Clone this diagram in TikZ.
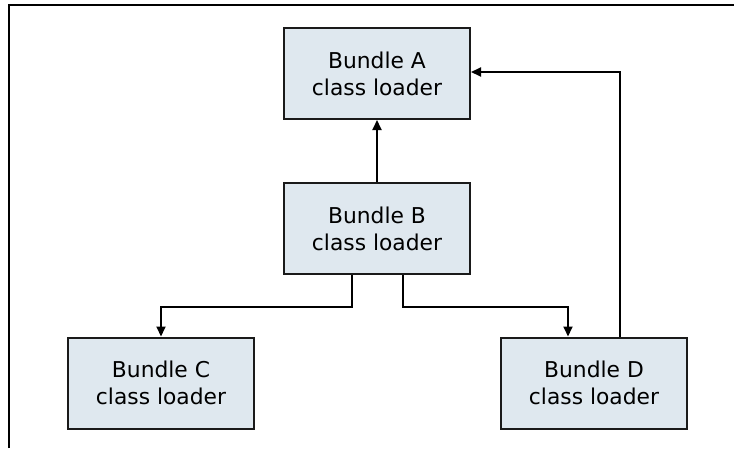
\documentclass[tikz,border=0pt]{standalone}
\usepackage{fontspec}
\setmainfont{DejaVu Sans}
\usetikzlibrary{arrows.meta}
\definecolor{boxfill}{HTML}{DFE8EF}
\definecolor{boxline}{HTML}{1A1A1A}
\tikzset{
  loader/.style={draw=boxline, line width=2pt, fill=boxfill, minimum width=186pt, minimum height=91pt,
    inner sep=0pt, align=center, font=\fontsize{21.8}{27}\selectfont},
  conn/.style={draw=black, line width=1.8pt, -{Triangle[length=10pt,width=9pt]}},
  frame/.style={draw=black, line width=1.6pt}
}
\begin{document}
\begin{tikzpicture}[x=1pt,y=-1pt]
\useasboundingbox (0,0) rectangle (734,448);
\coordinate (f1) at (9,448);
\coordinate (f2) at (9,5);
\coordinate (f3) at (734,5);
\draw[frame] (f1) -- (f2) -- (f3);
\node[loader] (A) at (377,73.5) {Bundle A\\class loader};
\node[loader] (B) at (377,228.5) {Bundle B\\class loader};
\node[loader] (C) at (161,383) {Bundle C\\class loader};
\node[loader] (D) at (594,383) {Bundle D\\class loader};
\draw[conn] (B.north) -- (A.south);
\draw[conn] ([xshift=-25pt]B.south) -- ++(0,32) -| (C.north);
\draw[conn] ([xshift=26pt]B.south) -- ++(0,32) -| ([xshift=-26pt]D.north);
\draw[conn] ([xshift=26pt]D.north) |- ([yshift=1.5pt]A.east);
\end{tikzpicture}
\end{document}
